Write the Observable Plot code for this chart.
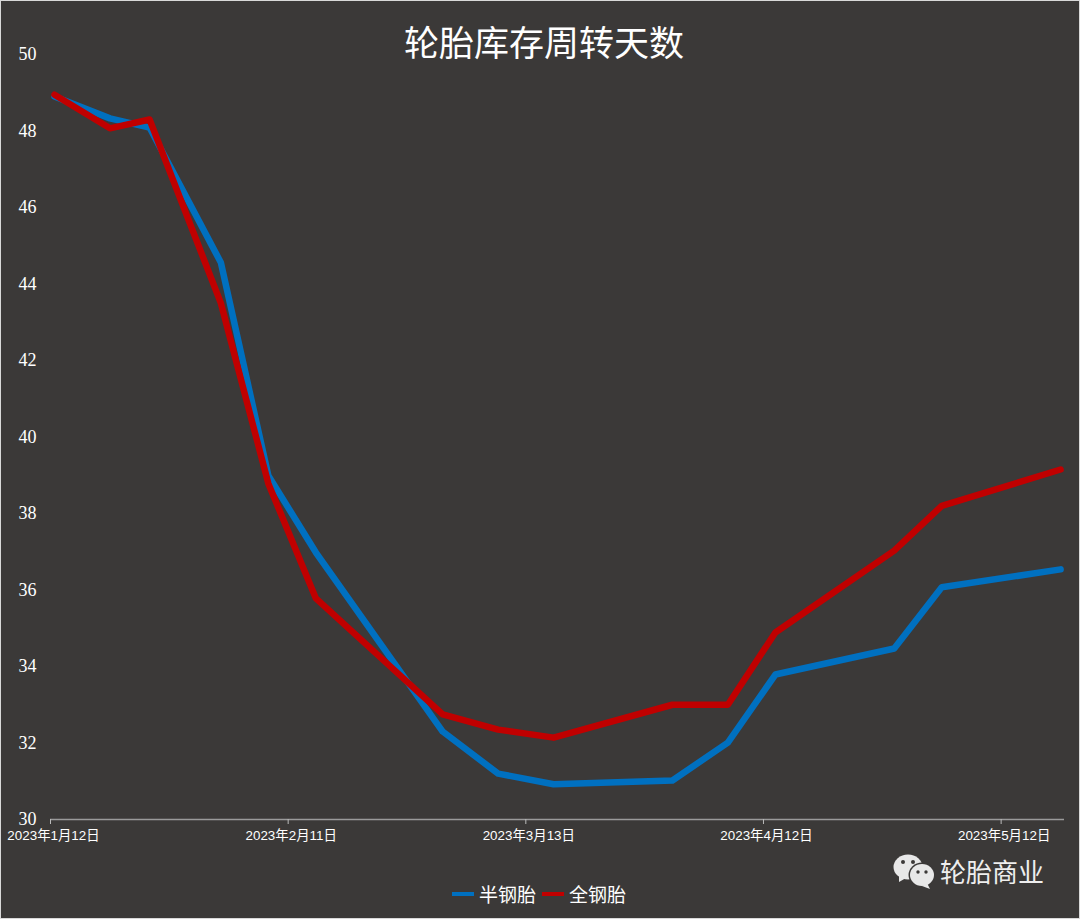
<!DOCTYPE html>
<html><head><meta charset="utf-8">
<script src="https://cdn.jsdelivr.net/npm/d3@7"></script>
<script src="https://cdn.jsdelivr.net/npm/@observablehq/plot@0.6"></script>
<style>
html,body{margin:0;padding:0;background:#3b3938;overflow:hidden}
#page{position:relative;width:1080px;height:919px;background:#3b3938;color:#fff;font-family:"Noto Sans CJK SC","Noto Sans",sans-serif}
#page svg{display:block}
#title{position:absolute;left:8px;right:0;top:18px;text-align:center;font-size:35px;line-height:46px}
#legend{position:absolute;left:452px;top:880px;display:flex;align-items:center;font-size:19px;line-height:28px}
#legend span.s{display:inline-block;width:22px;height:4px;margin-right:5px}
#legend span.t{margin-right:6px}
#mark{position:absolute;left:893px;top:850px;display:flex;align-items:center;font-size:26px;line-height:42px;color:#eee}
#edge{position:absolute;inset:0;border:1px solid #d9d9d9;pointer-events:none}
</style></head>
<body>
<div id="page">
<div id="chart"></div>
<div id="title">轮胎库存周转天数</div>
<div id="legend"></div>
<div id="mark"><svg width="43" height="38" viewBox="0 0 43 38" style="margin-right:4px">
<ellipse cx="15" cy="15" rx="14.5" ry="12.5" fill="#e8e8e8"/><path d="M6 23l0 7 7-4z" fill="#e8e8e8"/>
<ellipse cx="29" cy="23" rx="13.5" ry="12.5" fill="#3b3938"/>
<ellipse cx="29" cy="23" rx="12" ry="11" fill="#e8e8e8"/><path d="M34 31l3 6-8-3z" fill="#e8e8e8"/>
<circle cx="10" cy="10" r="2" fill="#3b3938"/><circle cx="20" cy="10" r="2" fill="#3b3938"/>
<circle cx="25" cy="20" r="1.7" fill="#3b3938"/><circle cx="33" cy="20" r="1.7" fill="#3b3938"/></svg><span>轮胎商业</span></div>
<div id="edge"></div>
</div>
<script>
const dates = ["2023-01-12","2023-01-19","2023-01-24","2023-02-02","2023-02-08","2023-02-14","2023-03-02","2023-03-09","2023-03-16","2023-03-31","2023-04-07","2023-04-13","2023-04-28","2023-05-04","2023-05-19"];
const banGang = [48.9,48.33,48.09,44.56,38.99,36.98,32.3,31.2,30.92,31.02,32.01,33.79,34.47,36.07,36.54];
const quanGang = [48.95,48.07,48.3,43.5,38.78,35.78,32.75,32.35,32.14,33.0,33.0,34.89,37.03,38.2,39.15];
const seriesNames = ["半钢胎","全钢胎"];
const seriesColors = ["#0070c0","#c00000"];
const xTicks = ["2023-01-12","2023-02-11","2023-03-13","2023-04-12","2023-05-12"];
const yTicks = [30,32,34,36,38,40,42,44,46,48,50];

const parse = s => new Date(s + "T00:00:00Z");
const rows = (vals, name) => vals.map((v,i) => ({date: parse(dates[i]), value: v, name}));
const fmt = d => `${d.getUTCFullYear()}年${d.getUTCMonth()+1}月${d.getUTCDate()}日`;

const plot = Plot.plot({
  width: 1080, height: 880,
  marginLeft: 50, marginRight: 16, marginTop: 54, marginBottom: 61,
  style: {background: "transparent", color: "#fff"},
  x: {type: "utc", domain: [parse("2023-01-12"), parse("2023-05-20")]},
  y: {domain: [30,50]},
  color: {domain: seriesNames, range: seriesColors},
  marks: [
    Plot.ruleY([30], {stroke: "#9a9a9a", strokeWidth: 1.5}),
    Plot.axisY({ticks: yTicks, tickSize: 0, tickPadding: 14, label: null, fontSize: 18, fill: "#fff", fontFamily: "'Liberation Serif',serif"}),
    Plot.axisX({ticks: xTicks.map(parse), tickSize: 5, text: null, label: null, stroke: "#bbb"}),
    Plot.axisX({ticks: xTicks.map(parse), tickFormat: fmt, tickSize: 0, tickPadding: 11, label: null, fontSize: 13.4, dx: 3, fill: "#fff", fontFamily: "'Liberation Sans','Noto Sans CJK SC',sans-serif"}),
    Plot.lineY(rows(banGang, seriesNames[0]), {x: "date", y: "value", stroke: "name", strokeWidth: 6.5, curve: "linear", dx: 4}),
    Plot.lineY(rows(quanGang, seriesNames[1]), {x: "date", y: "value", stroke: "name", strokeWidth: 6.5, curve: "linear", dx: 4})
  ]
});
document.getElementById("chart").append(plot);
const lg = document.getElementById("legend");
seriesNames.forEach((n,i) => {
  const s = document.createElement("span"); s.className="s"; s.style.background = seriesColors[i];
  const t = document.createElement("span"); t.className="t"; t.textContent = n;
  lg.append(s,t);
});
</script>
</body></html>
